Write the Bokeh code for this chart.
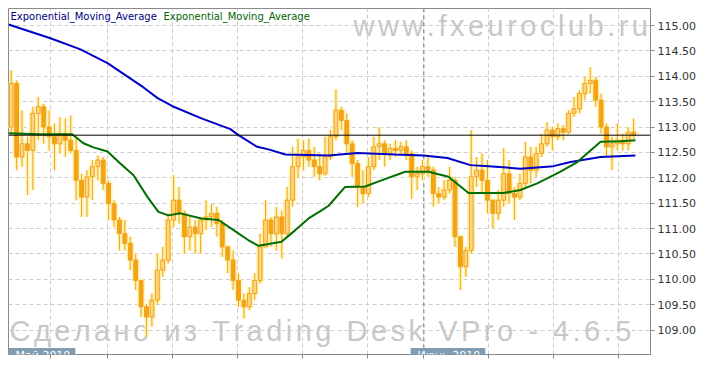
from bokeh.plotting import figure
from bokeh.models import (ColumnDataSource, Range1d, FixedTicker, PrintfTickFormatter,
                          Span, Label, LabelSet)
from bokeh.core.properties import value
from bokeh.embed import file_html
from bokeh.resources import INLINE

# ---------------- data (2-hour candles, 21 May - 4 Jun 2010) ----------------
bar_start_hours = list(range(0, 232, 2))

opens = [113.00, 113.86, 112.41, 112.67, 112.54, 113.27, 113.40, 113.00, 112.81, 112.67,
         112.87, 112.74, 112.54, 111.95, 111.62, 112.02, 112.22, 112.35, 111.89, 111.49,
         111.17, 110.90, 110.71, 110.38, 109.98, 109.46, 109.26, 109.59, 110.18, 110.38,
         111.17, 111.56, 111.30, 110.84, 111.03, 110.90, 111.17, 111.23, 111.30, 111.10,
         110.64, 110.38, 109.98, 109.59, 109.46, 109.72, 109.98, 110.64, 111.17, 110.90,
         111.23, 110.90, 111.56, 112.22, 112.41, 112.54, 112.35, 112.22, 112.08, 112.41,
         112.81, 113.33, 113.13, 112.67, 112.28, 111.82, 111.69, 112.22, 112.61, 112.67,
         112.48, 112.58, 112.54, 112.61, 112.48, 112.02, 112.08, 112.22, 112.15, 111.69,
         111.62, 111.76, 111.95, 110.84, 110.25, 110.57, 112.02, 112.15, 111.95, 111.56,
         111.30, 111.56, 112.08, 111.69, 111.62, 111.89, 112.41, 112.15, 112.48, 112.67,
         112.94, 112.81, 112.97, 112.90, 113.27, 113.36, 113.66, 113.86, 113.92, 113.53,
         113.00, 112.61, 112.67, 112.74, 112.67, 112.90]
highs = [114.12, 113.92, 113.33, 112.81, 113.40, 113.59, 113.46, 113.33, 113.07, 113.20,
         113.17, 113.23, 112.81, 112.08, 112.15, 112.35, 112.44, 112.41, 111.95, 111.56,
         111.23, 111.17, 110.84, 110.51, 109.98, 109.52, 109.72, 110.51, 110.64, 111.30,
         112.05, 111.82, 111.36, 111.23, 111.17, 111.23, 111.56, 111.49, 111.43, 111.17,
         110.64, 110.57, 110.12, 109.72, 109.85, 110.12, 110.90, 111.56, 111.23, 111.43,
         111.36, 111.82, 112.61, 112.77, 112.74, 112.77, 112.61, 112.48, 112.81, 112.94,
         113.74, 113.40, 113.27, 112.74, 112.35, 112.15, 112.41, 112.81, 113.00, 112.74,
         112.67, 112.74, 112.71, 112.74, 112.54, 112.22, 112.35, 112.41, 112.22, 111.82,
         111.95, 112.22, 112.02, 110.84, 110.64, 112.94, 112.41, 112.48, 112.35, 111.56,
         111.76, 112.58, 112.35, 111.82, 112.08, 112.71, 112.61, 112.61, 112.87, 113.10,
         113.00, 113.07, 113.04, 113.33, 113.59, 113.72, 113.99, 114.18, 113.99, 113.66,
         113.07, 112.81, 113.07, 112.87, 113.00, 113.17]
lows = [112.87, 112.15, 112.22, 111.66, 111.76, 112.74, 112.67, 112.54, 112.15, 112.48,
        112.41, 112.48, 111.56, 111.23, 111.23, 111.56, 111.95, 111.76, 111.17, 111.03,
        110.57, 110.57, 110.18, 109.79, 109.26, 108.87, 109.07, 109.52, 110.05, 110.31,
        111.03, 111.10, 110.51, 110.57, 110.51, 110.51, 110.97, 111.03, 110.84, 110.44,
        110.12, 109.79, 109.46, 109.23, 109.39, 109.59, 109.92, 110.64, 110.64, 110.57,
        110.41, 110.84, 111.43, 111.99, 112.15, 112.22, 112.02, 111.95, 112.05, 112.35,
        112.74, 112.94, 112.48, 112.02, 111.43, 111.49, 111.62, 112.15, 112.35, 112.22,
        112.35, 112.41, 112.44, 112.35, 111.59, 111.76, 111.95, 112.02, 111.43, 111.49,
        111.56, 111.69, 110.64, 109.79, 110.05, 110.51, 111.82, 111.69, 111.30, 111.00,
        111.17, 111.43, 111.49, 111.17, 111.56, 111.82, 111.89, 112.02, 112.41, 112.61,
        112.54, 112.74, 112.74, 112.87, 113.20, 113.27, 113.53, 113.66, 113.40, 112.87,
        112.41, 112.15, 112.54, 112.54, 112.54, 112.77]
closes = [113.86, 112.41, 112.67, 112.54, 113.27, 113.40, 113.00, 112.81, 112.67, 112.87,
          112.74, 112.54, 111.95, 111.62, 112.02, 112.22, 112.35, 111.89, 111.49, 111.17,
          110.90, 110.71, 110.38, 109.98, 109.46, 109.26, 109.59, 110.18, 110.38, 111.17,
          111.56, 111.30, 110.84, 111.03, 110.90, 111.17, 111.23, 111.30, 111.10, 110.64,
          110.38, 109.98, 109.59, 109.46, 109.72, 109.98, 110.64, 111.17, 110.90, 111.23,
          110.90, 111.56, 112.22, 112.41, 112.54, 112.35, 112.22, 112.08, 112.41, 112.81,
          113.33, 113.13, 112.67, 112.28, 111.82, 111.69, 112.22, 112.61, 112.67, 112.48,
          112.58, 112.54, 112.61, 112.48, 112.02, 112.08, 112.22, 112.15, 111.69, 111.62,
          111.76, 111.95, 110.84, 110.25, 110.57, 112.02, 112.15, 111.95, 111.56, 111.30,
          111.56, 112.08, 111.69, 111.62, 111.89, 112.41, 112.15, 112.48, 112.67, 112.94,
          112.81, 112.97, 112.90, 113.27, 113.36, 113.66, 113.86, 113.92, 113.53, 113.00,
          112.61, 112.67, 112.74, 112.67, 112.90, 112.84]

ema_long_hours = [0, 15.5, 26.6, 36.6, 49.9, 55.1, 60.6, 71.3, 82.0, 85.0, 91.9, 96.1, 102.3,
                  118.3, 128.9, 142.9, 153.4, 162.2, 170.7, 177.4, 189.2, 201.4, 207.7, 218.8, 231.7]
ema_long = [115.02, 114.75, 114.53, 114.26, 113.78, 113.57, 113.41, 113.17, 112.96, 112.84, 112.61,
            112.56, 112.46, 112.44, 112.49, 112.46, 112.44, 112.39, 112.25, 112.23, 112.18, 112.23,
            112.31, 112.41, 112.44]

ema_short_hours = [0, 11.8, 23.5, 27.7, 31.4, 36.6, 40.7, 46.2, 51.4, 55.4, 59.1, 63.5, 71.3, 77.6,
                   84.0, 88.7, 92.4, 100.9, 106.0, 110.9, 115.7, 118.3, 124.4, 131.8, 137.8, 146.6,
                   155.2, 162.6, 170.0, 182.9, 189.2, 195.4, 204.0, 210.2, 218.8, 226.2, 231.7]
ema_short = [112.88, 112.86, 112.86, 112.68, 112.60, 112.52, 112.31, 112.05, 111.62, 111.33, 111.26,
             111.30, 111.20, 111.17, 110.94, 110.77, 110.66, 110.74, 110.97, 111.20, 111.36, 111.45,
             111.82, 111.83, 111.95, 112.12, 112.12, 112.02, 111.70, 111.70, 111.76, 111.89, 112.12,
             112.31, 112.71, 112.72, 112.74]

day_tick_hours = [15, 36, 60, 84, 108, 132, 153, 177, 201, 225]
day_numbers = ["24", "25", "26", "27", "28", "31", "1", "2", "3", "4"]
day_names = ["Пн", "Вт", "Ср", "Чт", "Пт", "Пн", "Вт", "Ср", "Чт", "Пт"]
month_names = ["Май 2010", "Июнь 2010"]
month_start_hours = [0, 148.6]

y_ticks = [109.0, 109.5, 110.0, 110.5, 111.0, 111.5, 112.0, 112.5, 113.0, 113.5, 114.0, 114.5, 115.0]
series_names = ["Exponential_Moving_Average", "Exponential_Moving_Average"]

# ---------------- styling ----------------
X0, X1 = 0, 237.25
Y0, Y1 = 108.52, 115.335
GRID = "#cccccc"
FRAME = "#8a8a8a"
UI_FONT = "DejaVu Sans"
WM_FONT = "Liberation Sans"

p = figure(width=704, height=384, x_range=Range1d(X0, X1), y_range=Range1d(Y0, Y1),
           output_backend="svg", toolbar_location=None, y_axis_location="right",
           min_border_left=8, min_border_top=8, min_border_right=54, min_border_bottom=30,
           background_fill_color="white", border_fill_color="white",
           outline_line_color=FRAME, outline_line_width=1)

day_x = [h + 0.5 for h in day_tick_hours]

# axes
xa = p.xaxis[0]
xa.ticker = FixedTicker(ticks=day_x)
xa.major_label_overrides = {x: "" for x in day_x}
xa.major_label_text_font_size = "11px"
xa.major_tick_out = 4
xa.major_tick_in = 0
xa.minor_tick_out = 0
xa.minor_tick_in = 0
xa.axis_line_color = FRAME
xa.major_tick_line_color = FRAME
xa.major_label_standoff = 0

ya = p.yaxis[0]
ya.ticker = FixedTicker(ticks=y_ticks)
ya.formatter = PrintfTickFormatter(format="%.2f")
ya.major_tick_out = 4
ya.major_tick_in = 0
ya.minor_tick_out = 0
ya.minor_tick_in = 0
ya.axis_line_color = FRAME
ya.major_tick_line_color = FRAME
ya.major_label_standoff = 3
ya.major_label_text_font = UI_FONT
ya.major_label_text_font_size = "11px"
ya.major_label_text_color = "#333333"

p.xgrid.grid_line_color = GRID
p.xgrid.grid_line_dash = "4 3"
p.ygrid.grid_line_color = GRID
p.ygrid.grid_line_dash = "4 3"

# month boundary gridline (darker)
month_idx = day_numbers.index("1")
p.add_layout(Span(location=day_x[month_idx], dimension="height", line_color="#7a7a7a",
                  line_dash="4 3", line_width=1, level="underlay"))

# watermarks (letter-spaced)
AR = {'w': .722, '.': .278, 'f': .278, 'x': .5, 'e': .556, 'u': .556, 'r': .333, 'o': .556,
      'c': .5, 'l': .222, 'b': .556, 'С': .722, 'д': .578, 'е': .556, 'л': .571, 'а': .556,
      'н': .552, 'о': .556, 'и': .556, 'з': .458, ' ': .278, 'T': .611, 'a': .556, 'd': .556,
      'i': .222, 'n': .556, 'g': .556, 'D': .722, 's': .5, 'k': .5, 'V': .667, 'P': .667,
      '-': .333, '4': .556, '6': .556, '5': .556}


def spaced(text, size, spacing, start):
    xs, cur = [], start
    for ch in text:
        xs.append(cur)
        cur += AR.get(ch, .556) * size + spacing
    return xs


for txt, sx, sy in [("www.fxeuroclub.ru", 345, 319), ("Сделано из Trading Desk VPro - 4.6.5", 1, 14)]:
    chars = [c for c in txt]
    offs = spaced(txt, 29, 3.5, sx)
    keep = [i for i, c in enumerate(chars) if c != " "]
    wsrc = ColumnDataSource(dict(ch=[chars[i] for i in keep], dx=[offs[i] for i in keep]))
    p.add_layout(LabelSet(x=value(X0), y=value(Y0), x_offset="dx", y_offset=value(sy), text="ch",
                          source=wsrc, text_font=value(WM_FONT), text_font_size=value("29px"),
                          text_color="#c8c8c8", text_align="left", text_baseline="alphabetic",
                          level="underlay"))

# candles
xs = [h + 1 for h in bar_start_hours]
tops = [max(o, c) for o, c in zip(opens, closes)]
bots = [min(o, c) for o, c in zip(opens, closes)]
fills = ["#FFD57A" if c >= o else "#F5A40F" for o, c in zip(opens, closes)]
src = ColumnDataSource(dict(x=xs, o=opens, h=highs, l=lows, c=closes, top=tops, bot=bots, fill=fills))

GLOW = "#FFF3B0"
p.segment(x0="x", y0="h", x1="x", y1="l", source=src, line_color=GLOW, line_width=4)
p.vbar(x="x", top="top", bottom="bot", width=1.4, source=src, fill_color=GLOW,
       line_color=GLOW, line_width=4)
p.segment(x0="x", y0="h", x1="x", y1="l", source=src, line_color="#EEA52C", line_width=1)
p.vbar(x="x", top="top", bottom="bot", width=1.4, source=src, fill_color="fill",
       line_color="#EEA024", line_width=1)

# EMAs
p.line(ema_long_hours, ema_long, line_color="#0000C8", line_width=2)
p.line(ema_short_hours, ema_short, line_color="#006E00", line_width=2)

# last price line & label
last = closes[-1]
p.add_layout(Span(location=last, dimension="width", line_color="black", line_width=1))
p.add_layout(Label(x=X1, y=last, text=f"{last:.2f}", x_offset=7, text_align="left",
                   text_baseline="middle", text_color="white", text_font=UI_FONT,
                   text_font_size="11px", background_fill_color="#F5A21B",
                   padding=dict(left=1, right=3, top=0, bottom=0)))

# legend texts
for name, col, off in zip(series_names, ["#000080", "#006400"], [2, 155]):
    p.add_layout(Label(x=X0, y=Y1, text=name, x_offset=off, y_offset=-8, text_align="left",
                       text_baseline="middle", text_color=col, text_font=UI_FONT,
                       text_font_size="10px"))

# day labels (number dark, weekday grey)
dsrc = ColumnDataSource(dict(x=day_x, num=day_numbers, wd=["/" + d for d in day_names]))
p.add_layout(LabelSet(x="x", y=value(Y0), text="num", source=dsrc, x_offset=-2, y_offset=-17,
                      text_align="right", text_baseline="middle", text_color="#333333",
                      text_font=value(UI_FONT), text_font_size=value("11px")))
p.add_layout(LabelSet(x="x", y=value(Y0), text="wd", source=dsrc, x_offset=-2, y_offset=-17,
                      text_align="left", text_baseline="middle", text_color="#9a9a9a",
                      text_font=value(UI_FONT), text_font_size=value("11px")))

# month boxes
for name, hx in zip(month_names, month_start_hours):
    p.add_layout(Label(x=hx, y=Y0, text=name, y_offset=-1, text_align="left",
                       text_baseline="middle", text_color="white", text_font=UI_FONT,
                       text_font_size="11px", background_fill_color="#809DB4",
                       padding=dict(left=7, right=5, top=1, bottom=1)))

open("out.html", "w").write(file_html(p, INLINE))
